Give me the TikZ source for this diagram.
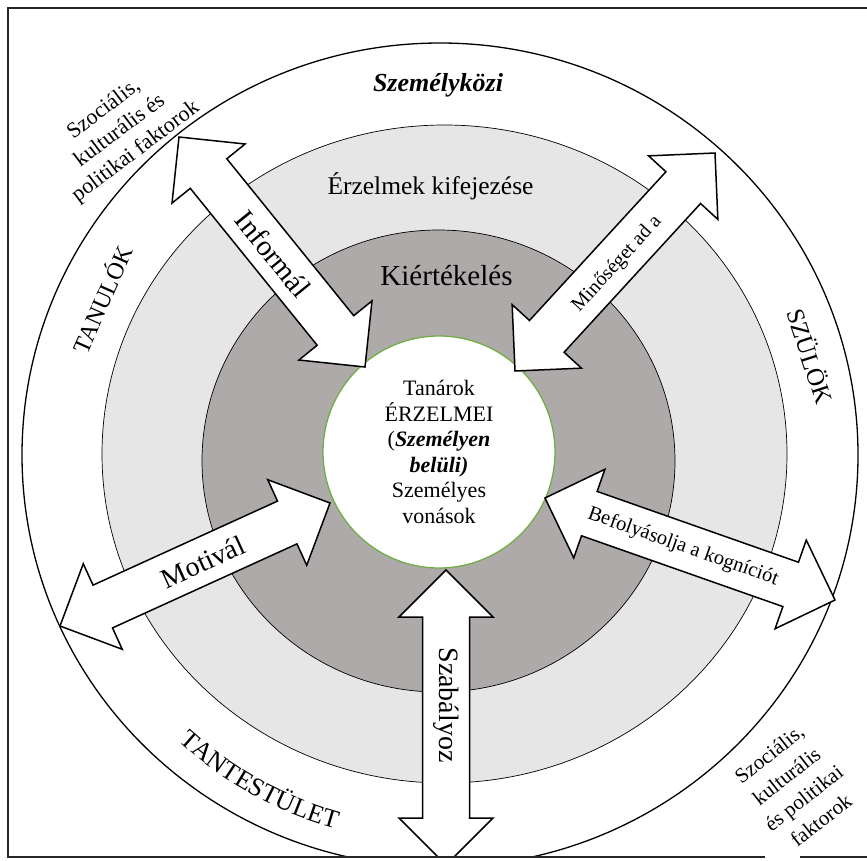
\documentclass[tikz,border=0pt]{standalone}
\usepackage{fontspec}
\setmainfont{Liberation Serif}
\usetikzlibrary{calc,decorations.text}
\definecolor{lightg}{HTML}{E6E6E6}
\definecolor{darkg}{HTML}{AEAAAA}
\definecolor{ringgreen}{HTML}{70AD47}
\newcommand\fsz[2]{\fontsize{#1pt}{#2pt}\selectfont}
\newcommand\blockarrow[2]{%
  \coordinate (#1h) at ($(#1)!47pt!(#2)$);
  \coordinate (#2h) at ($(#2)!47pt!(#1)$);
  \draw[barrow] (#1) -- ($(#1h)!47pt!90:(#2)$) -- ($(#1h)!23.5pt!90:(#2)$)
    -- ($(#2h)!23.5pt!-90:(#1)$) -- ($(#2h)!47pt!-90:(#1)$) -- (#2)
    -- ($(#2h)!47pt!90:(#1)$) -- ($(#2h)!23.5pt!90:(#1)$)
    -- ($(#1h)!23.5pt!-90:(#2)$) -- ($(#1h)!47pt!-90:(#2)$) -- cycle;
}
\tikzset{
  frameline/.style={line width=1.8pt, draw=black!85},
  outerring/.style={draw=black, line width=1.3pt, fill=white},
  ring/.style={draw=black, line width=0.7pt},
  barrow/.style={draw=black, line width=1.5pt, fill=white, line join=miter},
  lbl/.style={inner sep=0pt, text=black},
}
\begin{document}
\begin{tikzpicture}[x=1pt,y=-1pt]
\useasboundingbox (0,0) rectangle (867,860);
\fill[white] (0,0) rectangle (867,860);
\coordinate (ctr) at (440,455);
\begin{scope}
  \clip (0,0) rectangle (867,857);
  \draw[outerring] (440,455) ellipse [x radius=418pt, y radius=412pt];
  \draw[ring, fill=lightg] (444.5,454) ellipse [x radius=342.5pt, y radius=329pt];
  \draw[ring, fill=darkg] (438.5,461) ellipse [x radius=236.5pt, y radius=231pt];
  \node[circle, draw=ringgreen, line width=1.3pt, fill=white, minimum size=232pt,
        inner sep=0pt, align=center, font=\fsz{22}{25.6}] (core) at (439,452)
        {Tanárok\\ÉRZELMEI\\(\textbf{\textit{Személyen}}\\\textbf{\textit{belüli)}}\\Személyes\\vonások};
  \coordinate (inf1) at (179,137);
  \coordinate (inf2) at (365,367);
  \coordinate (min1) at (515,371);
  \coordinate (min2) at (715,153);
  \coordinate (mot1) at (60,626);
  \coordinate (mot2) at (330,503);
  \coordinate (bef1) at (545,498);
  \coordinate (bef2) at (835,600);
  \coordinate (sza1) at (446,570);
  \coordinate (sza2) at (446,865);
  \blockarrow{inf1}{inf2}
  \blockarrow{min1}{min2}
  \blockarrow{mot1}{mot2}
  \blockarrow{bef1}{bef2}
  \blockarrow{sza1}{sza2}
\end{scope}
\draw[frameline] (867,8) -- (8,8) -- (8,857) -- (765,857);
\draw[frameline] (800,857) -- (867,857);
% ring labels
\node[lbl, font=\fsz{26}{30}\bfseries\itshape, anchor=base] (szk) at (438,91) {Személyközi};
\node[lbl, font=\fsz{25.5}{29}, anchor=base] (erz) at (430.5,194) {Érzelmek kifejezése};
\node[lbl, font=\fsz{29}{35}, anchor=base] (kie) at (446.5,285) {Kiértékelés};
\node[lbl, font=\fsz{24}{29}, rotate=66] (tan) at (101,299) {TANULÓK};
\node[lbl, font=\fsz{25}{30}, rotate=-72] (szu) at (811,356) {SZÜLÖK};
\path[decorate, decoration={text along path, text align=center,
      text={|\fsz{26}{30}|TANTESTÜLET}}]
      ($(ctr)+(137:388)$) arc[start angle=137, end angle=101, radius=388];
\node[lbl, font=\fsz{22}{26.5}, rotate=37, align=center] (soc1) at (120,131)
  {Szociális,\\kulturális és\\politikai faktorok};
\node[lbl, font=\fsz{21}{28}, rotate=38, align=center] (soc2) at (795,787)
  {Szociális,\\kulturális\\és politikai\\faktorok};
% arrow labels
\node[lbl, font=\fsz{29}{34}, rotate=-51] (linf) at (273,254) {Informál};
\node[lbl, font=\fsz{20}{24}, rotate=47.5] (lmin) at (617,264) {Minőséget ad a};
\node[lbl, font=\fsz{28}{34}, rotate=24.5] (lmot) at (203,562) {Motivál};
\node[lbl, font=\fsz{20.5}{25}, rotate=-19.4] (lbef) at (683,547) {Befolyásolja a kogníciót};
\node[lbl, font=\fsz{28}{34}, rotate=-90] (lsza) at (446,705) {Szabályoz};
\end{tikzpicture}
\end{document}
